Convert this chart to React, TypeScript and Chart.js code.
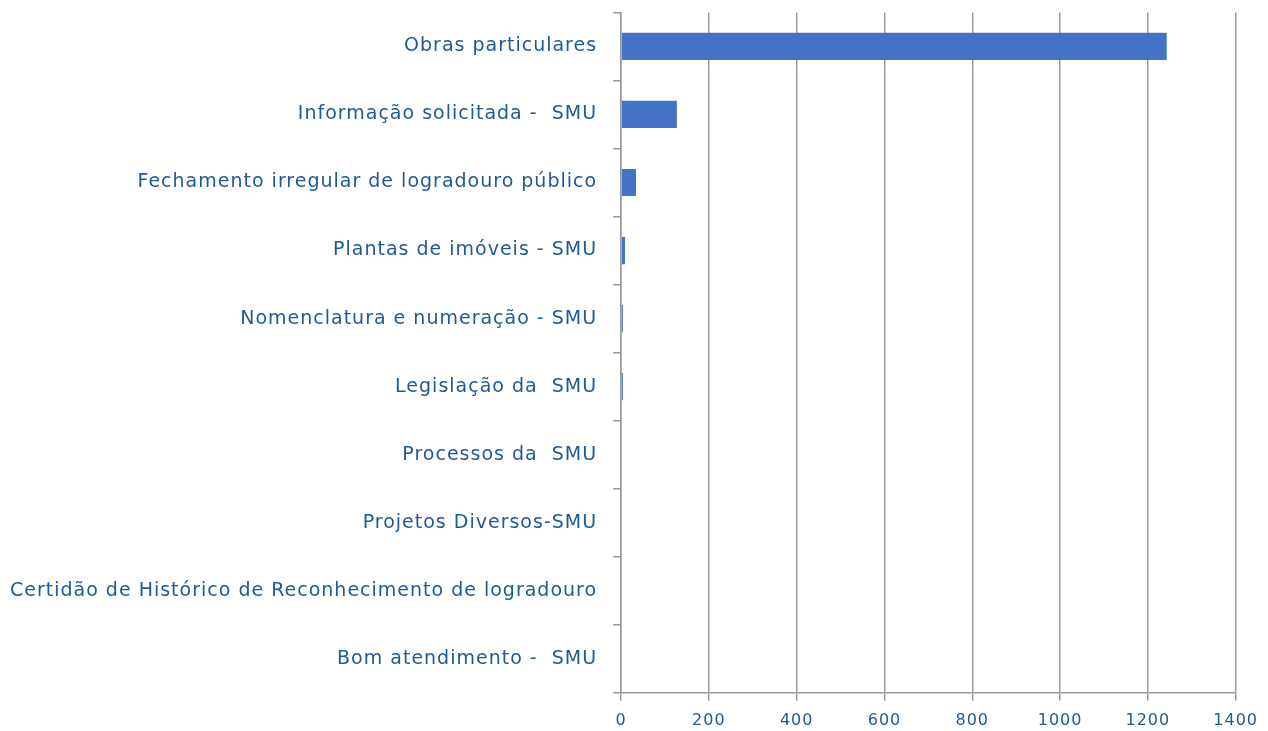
import React, { useEffect, useRef } from "react";
import { Chart, registerables } from "chart.js";

Chart.register(...registerables);

const categories: string[] = [
  "Obras particulares",
  "Informação solicitada -  SMU",
  "Fechamento irregular de logradouro público",
  "Plantas de imóveis - SMU",
  "Nomenclatura e numeração - SMU",
  "Legislação da  SMU",
  "Processos da  SMU",
  "Projetos Diversos-SMU",
  "Certidão de Histórico de Reconhecimento de logradouro",
  "Bom atendimento -  SMU",
];

const values: number[] = [1243, 127, 34, 9, 4, 4, 0, 0, 0, 0];

const xMin = 0;
const xMax = 1400;
const xStep = 200;

const labelColor = "#1F5A96";
const barColor = "#4472C4";
const gridColor = "#9a9a9a";

const spacingPlugin = {
  id: "letterSpacing",
  beforeUpdate(chart: any) {
    (chart.ctx as any).letterSpacing = "1px";
  },
  beforeDraw(chart: any) {
    (chart.ctx as any).letterSpacing = "1px";
  },
};

export default function App() {
  const ref = useRef<HTMLCanvasElement | null>(null);

  useEffect(() => {
    if (!ref.current) return;
    const chart = new Chart(ref.current, {
      type: "bar",
      data: {
        labels: categories,
        datasets: [
          {
            data: values,
            backgroundColor: barColor,
            borderWidth: 0,
            barPercentage: 0.4,
            categoryPercentage: 1,
          },
        ],
      },
      plugins: [spacingPlugin],
      options: {
        indexAxis: "y",
        animation: false,
        responsive: true,
        maintainAspectRatio: false,
        layout: { padding: { left: -6, right: 4, top: 0, bottom: 0 } },
        plugins: { legend: { display: false }, tooltip: { enabled: false } },
        scales: {
          x: {
            min: xMin,
            max: xMax,
            ticks: {
              stepSize: xStep,
              color: labelColor,
              font: { family: "DejaVu Sans", size: 16 },
              padding: 10,
              callback: (v: any) => String(v),
            },
            grid: { color: gridColor, lineWidth: 1.5, tickLength: 8 },
            border: { color: gridColor, width: 1.5 },
          },
          y: {
            offset: true,
            ticks: {
              color: labelColor,
              font: { family: "DejaVu Sans", size: 19 },
              padding: 16,
              autoSkip: false,
            },
            grid: {
              offset: true,
              drawOnChartArea: false,
              color: gridColor,
              lineWidth: 1.5,
              tickLength: 8,
            },
            border: { color: gridColor, width: 1.5 },
          },
        },
      },
    });
    return () => chart.destroy();
  }, []);

  return (
    <div style={{ position: "fixed", left: 0, top: -15, width: 1268, height: 755, background: "#fff" }}>
      <canvas ref={ref} />
    </div>
  );
}
